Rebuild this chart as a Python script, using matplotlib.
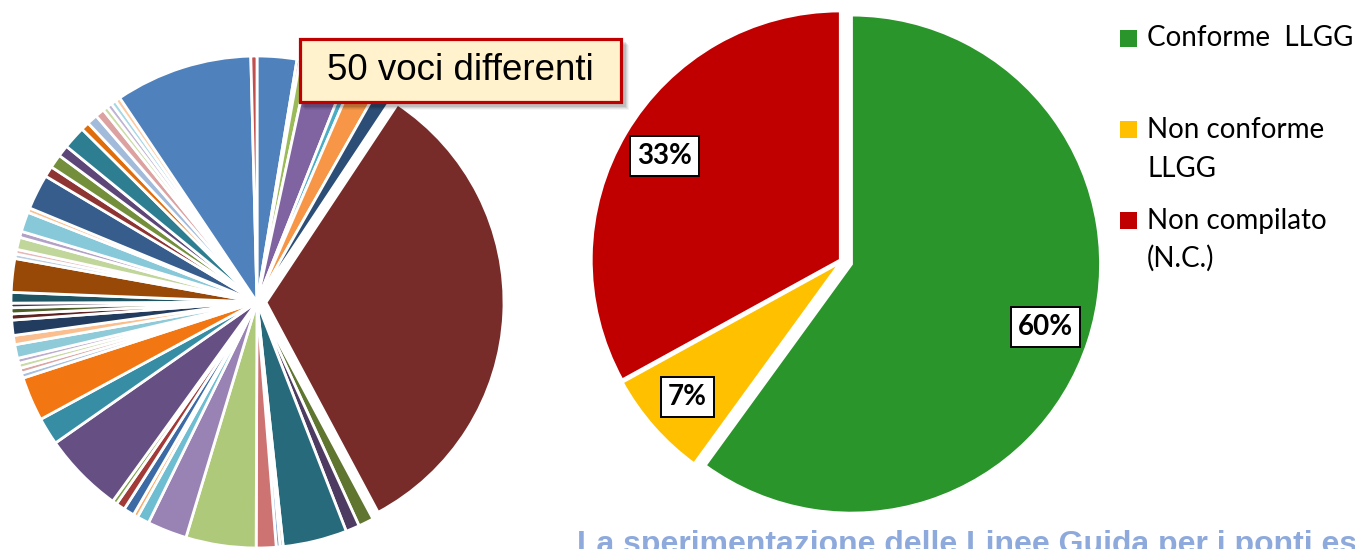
import matplotlib.pyplot as plt
from matplotlib.patches import Rectangle

W, H = 1355, 549

# -----------------------------------
# DATA
# -----------------------------------

# quota (%) di ciascuna voce, in senso orario da ore 12
voci_quote = [
    2.6, 0.2, 0.6, 2.6, 0.5, 1.7,
    1.1, 32.8, 1.0, 0.9, 4.2, 0.2,
    0.25, 1.3, 4.6, 2.6, 0.8, 0.3,
    0.7, 0.6, 0.3, 5.3, 1.8, 2.9,
    0.33, 0.33, 0.33, 0.33, 0.9, 0.6,
    1.0, 0.4, 0.4, 0.3, 0.7, 2.2,
    0.3, 0.3, 0.8, 0.4, 1.3, 0.3,
    2.3, 0.7, 0.9, 0.75, 1.5, 0.55,
    0.7, 0.6, 0.33, 0.33, 0.33, 0.33,
    9.0, 0.4,
]

voci_colori = [
    "#4F81BD", "#C0504D", "#9BBB59", "#8064A2", "#4BACC6", "#F79646",
    "#2C4D75", "#772C2A", "#5F7530", "#4D3B62", "#276A7C", "#B65708",
    "#729ACA", "#CD7371", "#AFC97A", "#9983B5", "#6FBDD1", "#F9AB6B",
    "#3C6AA5", "#A23B38", "#7CA046", "#664F83", "#378EA4", "#F27712",
    "#A7C0DE", "#DBA7A5", "#C8DAA5", "#BBADD0", "#8FCAD9", "#FBBF8F",
    "#213C5E", "#5E2321", "#4C5D26", "#3D2F4E", "#1F5563", "#984807",
    "#B9CDE5", "#E6B9B8", "#C0D69A", "#B3A2C7", "#87C8D9", "#FAC090",
    "#375D8D", "#8E3533", "#748F3B", "#5D4778", "#2E7E92", "#E06D0B",
    "#A2BBDB", "#DCA2A1", "#CADCA5", "#C0B3D3", "#A6D7E4", "#FCC9A0",
    "#4F81BD", "#C0504D",
]

esito_etichette = ["Conforme  LLGG", "Non conforme\nLLGG", "Non compilato\n(N.C.)"]
esito_quote = [60, 7, 33]
esito_colori = ["#2A952A", "#FFC000", "#C00000"]

titolo_box = "50 voci differenti"
titolo_slide = "La sperimentazione delle Linee Guida per i ponti esistenti"

# -----------------------------------
# FIGURE (1 data unit = 1 pixel)
# -----------------------------------

fig = plt.figure(figsize=(W / 100, H / 100), dpi=100)
ax = fig.add_axes([0, 0, 1, 1])

# left pie, biggest slice pulled out
explode_voci = [9 if q == max(voci_quote) else 0 for q in voci_quote]

wedges, _ = ax.pie(
    voci_quote,
    colors=voci_colori,
    startangle=90,
    counterclock=False,
    radius=246,
    center=(257, H - 302),
    explode=explode_voci,
    wedgeprops=dict(edgecolor="white", linewidth=2)
)
wedges[explode_voci.index(9)].set_radius(238)

# right pie
w2, _, autotexts = ax.pie(
    esito_quote,
    colors=esito_colori,
    startangle=90,
    counterclock=False,
    radius=249,
    center=(842, H - 261),
    explode=[10, 2, 2],
    autopct=lambda p: f"{p:.0f}%",
    pctdistance=0.82,
    wedgeprops=dict(edgecolor="white", linewidth=2)
)

for t in autotexts:
    t.set_fontfamily("Lato")
    t.set_fontweight("bold")
    t.set_fontsize(20)
    t.set_color("black")
    t.set_bbox(dict(boxstyle="square,pad=0.25", fc="white", ec="black", lw=1.4))

# -----------------------------------
# LEGEND
# -----------------------------------

baselines = [[46.5], [138, 177], [229, 267]]

for lab, col, ys in zip(esito_etichette, esito_colori, baselines):
    ax.add_patch(Rectangle((1120, H - ys[0]), 17, 17, fc=col, ec="none"))
    for line, y in zip(lab.split("\n"), ys):
        ax.text(1147, H - y, line, fontsize=20, family="Lato",
                ha="left", va="baseline", color="black")

# -----------------------------------
# CALLOUT BOX
# -----------------------------------

for k, a in enumerate([0.10, 0.08, 0.06, 0.04]):
    ax.add_patch(Rectangle((300 + k + 2, H - 107 - k), 324, 65,
                           fc="#000000", ec="none", alpha=a))

ax.add_patch(Rectangle((299.5, H - 102), 321, 63,
                       fc="#FFF2CC", ec="#C00000", lw=2.3))

ax.text(460, H - 71, titolo_box, fontsize=26.5, family="Liberation Sans",
        ha="center", va="center", color="black")

# slide title, cut by the bottom edge
ax.text(577, H - 553, titolo_slide, fontsize=23, family="Liberation Sans",
        fontweight="bold", ha="left", va="baseline", color="#8EAADC")

ax.set_xlim(0, W)
ax.set_ylim(0, H)
ax.set_aspect("auto")
ax.axis("off")

fig.savefig("out.png", dpi=100)
plt.close(fig)
